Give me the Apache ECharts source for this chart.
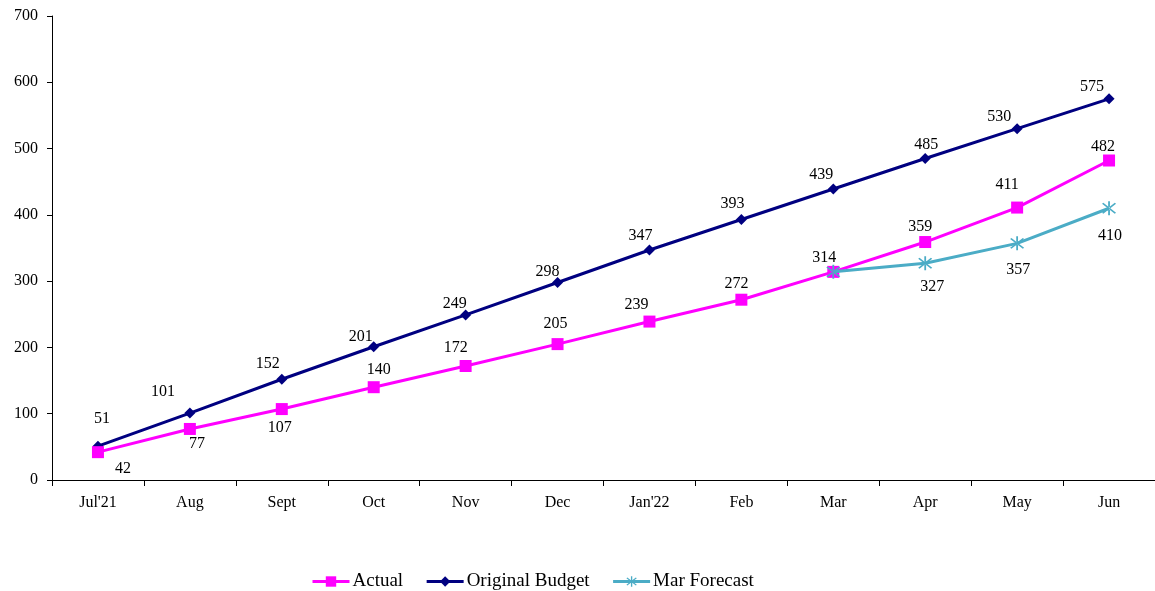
<!DOCTYPE html>
<html>
<head>
<meta charset="utf-8">
<script src="https://cdn.jsdelivr.net/npm/echarts@6/dist/echarts.min.js"></script>
<style>
  html, body { margin: 0; padding: 0; background: #fff; }
  #chart { width: 1155px; height: 591px; }
</style>
</head>
<body>
<div id="chart"></div>
<script>
// Month labels for the fiscal year
const months = ["Jul'21", "Aug", "Sept", "Oct", "Nov", "Dec", "Jan'22", "Feb", "Mar", "Apr", "May", "Jun"];
// Cumulative values per month
const actual = [42, 77, 107, 140, 172, 205, 239, 272, 314, 359, 411, 482];
const originalBudget = [51, 101, 152, 201, 249, 298, 347, 393, 439, 485, 530, 575];
const marForecast = [null, null, null, null, null, null, null, null, 314, 327, 357, 410];
// Value axis ticks
const yTicks = [0, 100, 200, 300, 400, 500, 600, 700];

// Label placement (pixel offsets of each value label from its point)
const actualLabelOffsets = [[25, 17], [7, 15], [-2, 19], [5, -17], [-10, -18], [-2, -20],
  [-13, -17], [-5, -16], [-9, -14], [-5, -15], [-10, -23], [-6, -14]];
const budgetLabelOffsets = [[4, -27], [-27, -21], [-14, -15], [-13, -10], [-11, -11], [-10, -11],
  [-9, -14], [-9, -16], [-12, -14], [1, -14], [-18, -12], [-17, -12]];
const forecastLabelOffsets = [null, null, null, null, null, null, null, null, null, [7, 24], [1, 26], [1, 28]];

const FONT = '"Liberation Serif", "Times New Roman", serif';

// Asterisk marker: one vertical bar and two diagonal bars
const asterisk = 'path://M-1,-10L1,-10L1,10L-1,10Z' +
  'M6.36,7.78L7.78,6.36L-6.36,-7.78L-7.78,-6.36Z' +
  'M-7.78,6.36L-6.36,7.78L7.78,-6.36L6.36,-7.78Z';

const chart = echarts.init(document.getElementById('chart'), null, { renderer: 'canvas' });

const labelBase = {
  show: true, position: 'inside', align: 'center', verticalAlign: 'middle',
  fontFamily: FONT, fontSize: 16, color: '#000'
};

function withLabels(values, offsets) {
  return values.map((v, i) => ({
    value: v,
    label: offsets[i] ? { show: true, offset: offsets[i] } : { show: false }
  }));
}

chart.setOption({
  animation: false,
  backgroundColor: '#fff',
  textStyle: { fontFamily: FONT },
  grid: { left: 52, right: 0, top: 16, bottom: 111, containLabel: false },
  legend: {
    top: 567,
    left: 306,
    itemWidth: 37,
    itemHeight: 13,
    itemGap: 22,
    lineStyle: { width: 3 },
    textStyle: { fontFamily: FONT, fontSize: 19, color: '#000', padding: [0, 0, 0, -2] },
    data: ['Actual', 'Original Budget', 'Mar Forecast']
  },
  xAxis: {
    type: 'category',
    data: months,
    boundaryGap: true,
    axisLine: { lineStyle: { color: '#000', width: 1 } },
    axisTick: { show: true, length: 6, lineStyle: { color: '#000' } },
    axisLabel: { fontFamily: FONT, fontSize: 16, color: '#000', margin: 15 },
    splitLine: { show: false }
  },
  yAxis: {
    type: 'value',
    min: yTicks[0],
    max: yTicks[yTicks.length - 1],
    interval: yTicks[1] - yTicks[0],
    axisLine: { show: true, lineStyle: { color: '#000', width: 1 } },
    axisTick: { show: true, length: 5, lineStyle: { color: '#000' } },
    axisLabel: { fontFamily: FONT, fontSize: 16, color: '#000', margin: 14 },
    splitLine: { show: false }
  },
  series: [
    {
      name: 'Actual',
      type: 'line',
      data: withLabels(actual, actualLabelOffsets),
      symbol: 'rect',
      symbolSize: 12,
      z: 3,
      itemStyle: { color: '#ff00ff' },
      lineStyle: { color: '#ff00ff', width: 3 },
      label: labelBase
    },
    {
      name: 'Original Budget',
      type: 'line',
      data: withLabels(originalBudget, budgetLabelOffsets),
      symbol: 'diamond',
      symbolSize: 11,
      z: 2,
      itemStyle: { color: '#000080' },
      lineStyle: { color: '#000080', width: 3 },
      label: labelBase
    },
    {
      name: 'Mar Forecast',
      type: 'line',
      data: withLabels(marForecast, forecastLabelOffsets),
      symbol: asterisk,
      symbolSize: 14,
      z: 4,
      itemStyle: { color: '#4bacc6' },
      lineStyle: { color: '#4bacc6', width: 3 },
      label: labelBase
    }
  ]
});
</script>
</body>
</html>
